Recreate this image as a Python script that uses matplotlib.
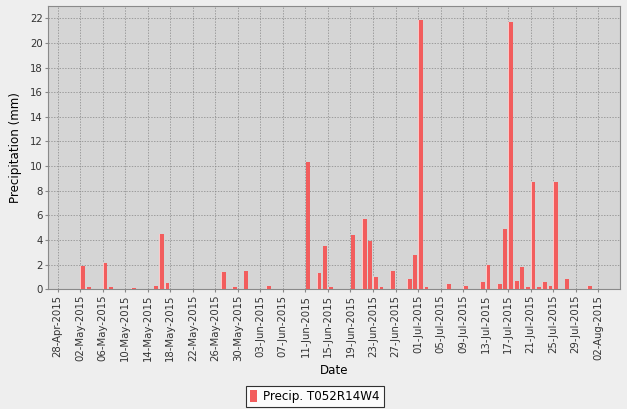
import matplotlib
matplotlib.use("Agg")
import matplotlib.pyplot as plt
import matplotlib.dates as mdates
import datetime as dt

dates = ["2015-05-02", "2015-05-03", "2015-05-06", "2015-05-07", "2015-05-11",
         "2015-05-15", "2015-05-16", "2015-05-17", "2015-05-27", "2015-05-29",
         "2015-05-31", "2015-06-04", "2015-06-11", "2015-06-13", "2015-06-14",
         "2015-06-15", "2015-06-19", "2015-06-21", "2015-06-22", "2015-06-23",
         "2015-06-24", "2015-06-26", "2015-06-29", "2015-06-30", "2015-07-01",
         "2015-07-02", "2015-07-06", "2015-07-09", "2015-07-12", "2015-07-13",
         "2015-07-15", "2015-07-16", "2015-07-17", "2015-07-18", "2015-07-19",
         "2015-07-20", "2015-07-21", "2015-07-22", "2015-07-23", "2015-07-24",
         "2015-07-25", "2015-07-27", "2015-07-31"]
precip = [1.9, 0.2, 2.1, 0.2, 0.1,
          0.3, 4.5, 0.5, 1.4, 0.2,
          1.5, 0.3, 10.3, 1.3, 3.5,
          0.2, 4.4, 5.7, 3.9, 1.0,
          0.2, 1.5, 0.8, 2.8, 21.9,
          0.2, 0.4, 0.3, 0.6, 2.0,
          0.4, 4.9, 21.7, 0.7, 1.8,
          0.2, 8.7, 0.2, 0.6, 0.3,
          8.7, 0.8, 0.3]
series_name = "Precip. T052R14W4"
y_ticks = list(range(0, 23, 2))
tick_start = "2015-04-28"
tick_end = "2015-08-02"

bg = "#eeeeee"
plot_bg = "#d5d5d5"
bar_col = "#f25d5d"

fig = plt.figure(figsize=(6.27, 4.09), dpi=100, facecolor=bg)
ax = fig.add_axes([48.3/627, 1 - 289.3/409, (620-48.3)/627, (289.3-6)/409])
ax.set_facecolor(plot_bg)

xd = [mdates.date2num(dt.datetime.strptime(d, "%Y-%m-%d")) for d in dates]
ax.bar([x + 0.05 for x in xd], precip, width=0.8, align="edge",
       color=bar_col, linewidth=0, zorder=3, label=series_name)
ax.bar([x + 0.05 for x in xd], precip, width=0.12, align="edge",
       color="#ffc8c8", linewidth=0, zorder=4)

t0 = mdates.date2num(dt.datetime.strptime(tick_start, "%Y-%m-%d"))
t1 = mdates.date2num(dt.datetime.strptime(tick_end, "%Y-%m-%d"))
ax.set_xlim(t0 - 1.65, t0 + 99.86)
ax.set_ylim(0, 23.0)
xt = [t0 + 4 * i for i in range(int((t1 - t0) / 4) + 1)]
ax.set_xticks(xt)
ax.xaxis.set_major_formatter(mdates.DateFormatter("%d-%b-%Y"))
ax.set_yticks(y_ticks)
ax.tick_params(axis="x", rotation=90, labelsize=7.3, length=2, color="#888888", pad=2,
               labelcolor="#333333")
ax.tick_params(axis="y", labelsize=7.3, length=2, color="#888888", pad=2,
               labelcolor="#333333")

ax.grid(True, color="#858585", linestyle=(0, (2, 2)), linewidth=0.5, zorder=1)
ax.set_axisbelow(True)
for s in ax.spines.values():
    s.set_color("#8a8a8a")
    s.set_linewidth(0.8)

ax.set_xlabel("Date", fontsize=8.6, labelpad=2)
ax.set_ylabel("Precipitation (mm)", fontsize=8.6, labelpad=6)

leg = fig.legend(loc="center", bbox_to_anchor=(314.5/627, 1 - 396.5/409),
                 fontsize=8.6, frameon=True, fancybox=False, handlelength=0.6,
                 handleheight=1.2, handletextpad=0.5, borderpad=0.35)
leg.get_frame().set_edgecolor("black")
leg.get_frame().set_linewidth(0.8)
leg.get_frame().set_facecolor("white")

fig.savefig("out.png", dpi=100, facecolor=bg)
